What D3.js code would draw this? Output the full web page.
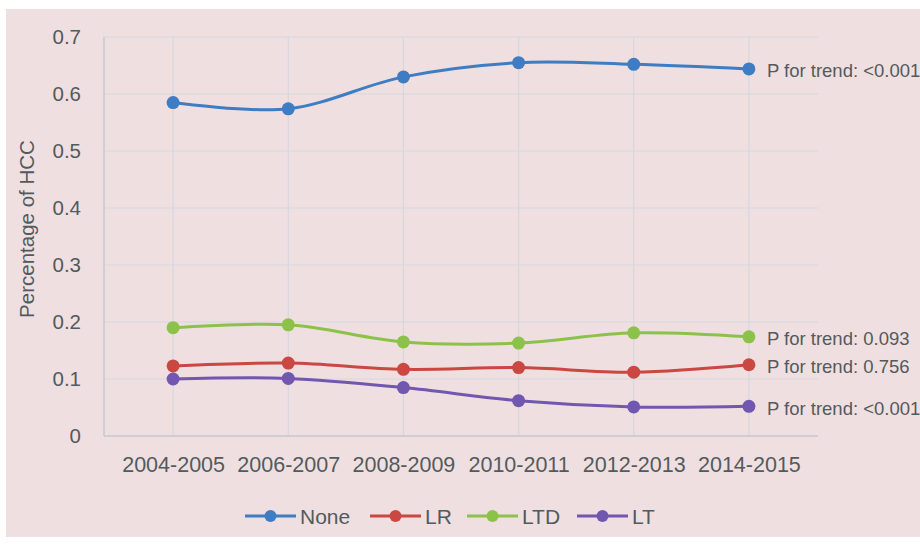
<!DOCTYPE html>
<html>
<head>
<meta charset="utf-8">
<script src="https://cdn.jsdelivr.net/npm/d3@7"></script>
<style>
  html, body { margin: 0; padding: 0; background: #ffffff; }
  svg { display: block; font-family: "Liberation Sans", Arial, sans-serif; }
</style>
</head>
<body>
<div id="chart"></div>
<script>
// data
const categories = ['2004-2005', '2006-2007', '2008-2009', '2010-2011', '2012-2013', '2014-2015'];
const seriesNames = ['None', 'LR', 'LTD', 'LT'];
const noneValues = [0.585, 0.574, 0.630, 0.655, 0.652, 0.644];
const lrValues = [0.123, 0.128, 0.117, 0.120, 0.112, 0.125];
const ltdValues = [0.190, 0.195, 0.165, 0.163, 0.181, 0.174];
const ltValues = [0.100, 0.101, 0.085, 0.062, 0.051, 0.052];
const trendLabels = ['P for trend: <0.001', 'P for trend: 0.756', 'P for trend: 0.093', 'P for trend: <0.001'];
const yTicks = [0, 0.1, 0.2, 0.3, 0.4, 0.5, 0.6, 0.7];
const colors = ['#3e7cc4', '#cb4741', '#8cc24a', '#7257b1'];

const series = seriesNames.map((name, i) => ({
  name: name,
  values: [noneValues, lrValues, ltdValues, ltValues][i],
  label: trendLabels[i],
  color: colors[i]
}));

const width = 920, height = 547;
const margin = { top: 37, right: 102, bottom: 111, left: 104 };
const textColor = '#505b5e';

const svg = d3.select('#chart').append('svg')
  .attr('width', width)
  .attr('height', height);

// pink panel
svg.append('rect')
  .attr('x', 6).attr('y', 9)
  .attr('width', width - 6).attr('height', 528)
  .attr('fill', '#f0dfe0');

const innerW = width - margin.left - margin.right;
const innerH = height - margin.top - margin.bottom;

const x = d3.scalePoint().domain(categories).range([0, innerW]).padding(0.6);
const y = d3.scaleLinear().domain([0, 0.7]).range([innerH, 0]);

const g = svg.append('g')
  .attr('transform', 'translate(' + margin.left + ',' + margin.top + ')');

// horizontal grid
g.append('g')
  .selectAll('line')
  .data(yTicks.slice(1))
  .enter().append('line')
  .attr('x1', 0).attr('x2', innerW)
  .attr('y1', d => y(d)).attr('y2', d => y(d))
  .attr('stroke', '#d3d8de').attr('stroke-width', 1.2);

// vertical grid
g.append('g')
  .selectAll('line')
  .data(categories)
  .enter().append('line')
  .attr('x1', d => x(d)).attr('x2', d => x(d))
  .attr('y1', 0).attr('y2', innerH)
  .attr('stroke', '#d3d8de').attr('stroke-width', 1.2);

// axis lines
g.append('line')
  .attr('x1', 0).attr('x2', 0).attr('y1', 0).attr('y2', innerH)
  .attr('stroke', '#c3cad2').attr('stroke-width', 1.5);
g.append('line')
  .attr('x1', 0).attr('x2', innerW).attr('y1', innerH).attr('y2', innerH)
  .attr('stroke', '#c3cad2').attr('stroke-width', 1.5);

// y axis labels
const yAxis = g.append('g')
  .call(d3.axisLeft(y).tickValues(yTicks).tickFormat(d => d === 0 ? '0' : d3.format('.1f')(d)).tickSize(0).tickPadding(23));
yAxis.select('.domain').remove();
yAxis.selectAll('text')
  .attr('fill', textColor)
  .style('font-size', '20.5px');

// x axis labels
const xAxis = g.append('g')
  .attr('transform', 'translate(0,' + innerH + ')')
  .call(d3.axisBottom(x).tickSize(0).tickPadding(21));
xAxis.select('.domain').remove();
xAxis.selectAll('text')
  .attr('fill', textColor)
  .style('font-size', '21.5px');

// y axis title
svg.append('text')
  .attr('transform', 'translate(34,' + 229 + ') rotate(-90)')
  .attr('text-anchor', 'middle')
  .attr('fill', textColor)
  .style('font-size', '20.5px')
  .text('Percentage of HCC');

const line = d3.line()
  .x((d, i) => x(categories[i]))
  .y(d => y(d))
  .curve(d3.curveCatmullRom.alpha(0.5));

series.forEach(s => {
  g.append('path')
    .datum(s.values)
    .attr('d', line)
    .attr('fill', 'none')
    .attr('stroke', s.color)
    .attr('stroke-width', 3);

  g.append('g')
    .selectAll('circle')
    .data(s.values)
    .enter().append('circle')
    .attr('cx', (d, i) => x(categories[i]))
    .attr('cy', d => y(d))
    .attr('r', 6.5)
    .attr('fill', s.color);

  const last = s.values[s.values.length - 1];
  g.append('text')
    .attr('x', x(categories[categories.length - 1]) + 18)
    .attr('y', y(last) + 2)
    .attr('dominant-baseline', 'central')
    .attr('fill', textColor)
    .style('font-size', '18.5px')
    .text(s.label);
});

// legend
const legendX = [245, 370, 467, 577];
const legend = svg.append('g').attr('transform', 'translate(0,516)');
series.forEach((s, i) => {
  const lg = legend.append('g').attr('transform', 'translate(' + legendX[i] + ',0)');
  lg.append('line')
    .attr('x1', 0).attr('x2', 51).attr('y1', 0).attr('y2', 0)
    .attr('stroke', s.color).attr('stroke-width', 3);
  lg.append('circle')
    .attr('cx', 25.5).attr('cy', 0).attr('r', 6)
    .attr('fill', s.color);
  lg.append('text')
    .attr('x', 55).attr('y', 0)
    .attr('dominant-baseline', 'central')
    .attr('fill', textColor)
    .style('font-size', '21px')
    .text(s.name);
});
</script>
</body>
</html>
